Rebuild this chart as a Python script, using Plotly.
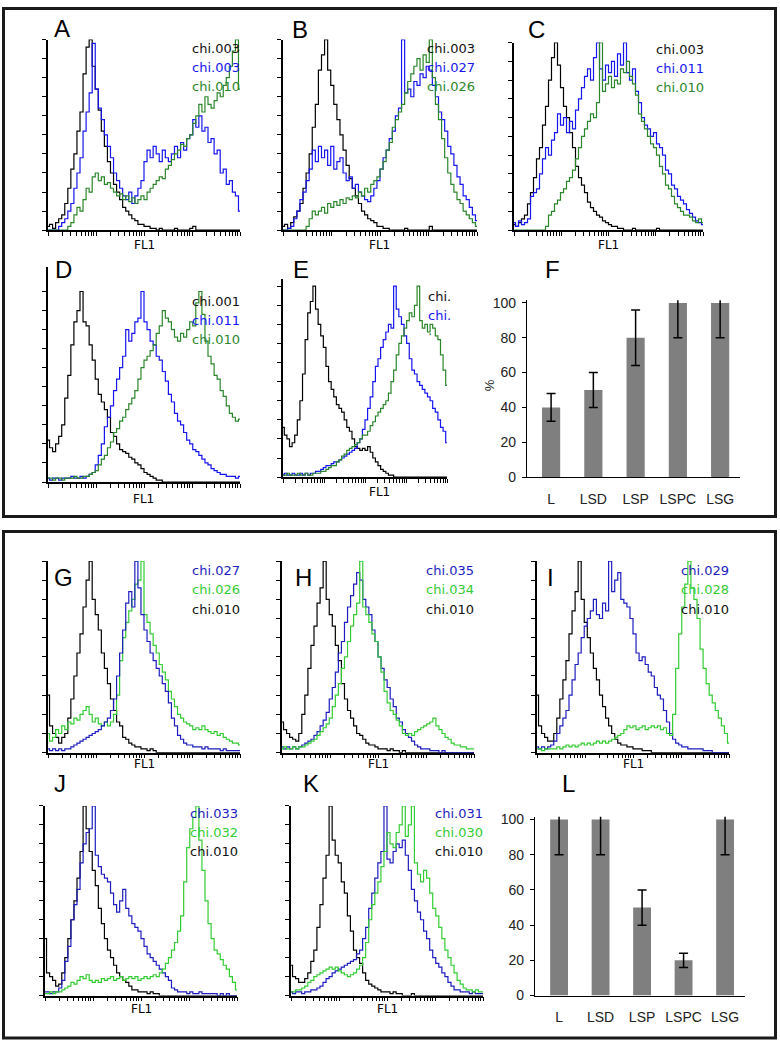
"""Flow-cytometry FL1 histograms (panels A-E, G-K) plus % positive bar charts (F, L)."""

import numpy as np
import plotly.graph_objects as go

W, H = 780, 1051

# ---- histogram counts: 64 FL1 bins spread over 4 log decades, 0-100 = full axis ----
A_black = [2, 3, 1, 4, 6, 8, 14, 22, 32, 40, 52, 62, 82, 96, 100, 86,
           74, 63, 52, 44, 36, 30, 24, 20, 16, 12, 10, 8, 6, 5, 3, 3,
           2, 2, 1, 1, 0, 1, 0, 0, 0, 0, 1, 0, 0, 0, 0, 1,
           2, 0, 0, 0, 0, 0, 0, 0, 0, 0, 0, 0, 0, 0, 0, 0]
A_blue = [0, 0, 0, 0, 2, 4, 6, 10, 14, 22, 30, 38, 52, 62, 72, 98,
          74, 64, 58, 50, 44, 38, 30, 26, 22, 18, 16, 20, 14, 18, 22, 26,
          36, 42, 38, 44, 40, 36, 42, 38, 36, 40, 44, 38, 46, 42, 48, 50,
          58, 54, 60, 52, 54, 46, 48, 40, 42, 30, 32, 24, 26, 20, 18, 10]
A_green = [0, 0, 0, 0, 0, 0, 0, 2, 4, 8, 12, 10, 16, 22, 20, 28,
           30, 26, 28, 24, 25, 22, 20, 18, 19, 16, 18, 15, 17, 14, 16, 18,
           16, 20, 22, 24, 26, 28, 27, 32, 34, 37, 40, 42, 45, 44, 48, 50,
           56, 60, 66, 62, 70, 66, 64, 68, 72, 70, 76, 80, 86, 94, 100, 74]

B_black = [2, 3, 1, 4, 7, 10, 14, 22, 30, 40, 54, 66, 84, 92, 100, 84,
           76, 66, 58, 50, 42, 34, 27, 22, 18, 14, 10, 8, 6, 5, 4, 2,
           2, 1, 1, 0, 0, 0, 0, 0, 1, 0, 0, 0, 0, 0, 0, 0,
           2, 0, 0, 0, 0, 0, 0, 0, 0, 0, 0, 0, 0, 0, 0, 0]
B_blue = [0, 0, 1, 2, 6, 10, 16, 20, 26, 32, 42, 36, 44, 38, 42, 34,
          44, 32, 36, 38, 30, 26, 28, 22, 24, 20, 18, 16, 15, 18, 22, 26,
          32, 38, 42, 48, 52, 60, 64, 100, 72, 74, 70, 78, 76, 82, 80, 86,
          84, 76, 70, 62, 58, 52, 44, 40, 34, 28, 24, 18, 16, 12, 8, 5]
B_green = [0, 0, 0, 0, 0, 0, 0, 0, 2, 6, 10, 8, 10, 12, 9, 14,
           12, 15, 13, 16, 14, 17, 16, 18, 17, 20, 18, 22, 20, 24, 26, 28,
           32, 36, 42, 46, 54, 58, 62, 66, 72, 78, 82, 86, 90, 84, 92, 88,
           100, 80, 66, 58, 48, 38, 30, 24, 20, 16, 14, 10, 8, 6, 4, 2]

C_black = [3, 2, 4, 6, 8, 14, 20, 28, 38, 44, 56, 66, 80, 92, 100, 88,
           76, 66, 60, 52, 44, 34, 28, 24, 20, 15, 12, 10, 8, 7, 5, 4,
           3, 2, 2, 1, 1, 0, 0, 0, 1, 0, 0, 0, 0, 0, 0, 0,
           1, 0, 0, 0, 0, 0, 0, 0, 0, 0, 0, 0, 0, 0, 0, 0]
C_blue = [4, 2, 5, 3, 4, 6, 18, 20, 22, 30, 38, 44, 40, 48, 52, 62,
          56, 60, 52, 58, 54, 64, 70, 76, 82, 86, 80, 92, 100, 86, 80, 88,
          84, 90, 82, 94, 88, 100, 84, 80, 86, 74, 68, 60, 56, 54, 50, 52,
          46, 44, 40, 32, 30, 24, 22, 18, 16, 14, 11, 9, 7, 5, 4, 3]
C_green = [0, 0, 0, 0, 0, 0, 0, 0, 0, 0, 0, 2, 8, 10, 14, 16,
           20, 22, 26, 28, 32, 38, 44, 50, 54, 58, 62, 60, 68, 100, 74, 78,
           82, 76, 80, 78, 86, 84, 90, 82, 78, 72, 62, 58, 54, 50, 46, 44,
           40, 34, 30, 24, 22, 18, 14, 12, 10, 8, 8, 7, 5, 4, 6, 4]

D_black = [22, 18, 16, 20, 24, 30, 44, 56, 72, 84, 90, 100, 84, 82, 72, 64,
           54, 46, 42, 38, 34, 26, 24, 20, 17, 16, 15, 13, 12, 10, 9, 7,
           5, 4, 3, 2, 1, 1, 0, 0, 0, 0, 0, 0, 0, 0, 0, 0,
           0, 0, 0, 0, 0, 0, 0, 0, 0, 0, 0, 0, 0, 0, 0, 0]
D_blue = [2, 1, 2, 2, 1, 2, 2, 2, 3, 2, 2, 3, 2, 3, 4, 5,
          9, 14, 20, 29, 34, 40, 48, 54, 60, 66, 80, 74, 78, 84, 86, 100,
          84, 80, 74, 72, 66, 64, 58, 53, 46, 42, 36, 32, 30, 26, 22, 20,
          17, 16, 14, 12, 10, 9, 7, 6, 5, 4, 4, 3, 3, 3, 2, 3]
D_green = [2, 2, 1, 2, 2, 1, 2, 2, 2, 3, 2, 2, 3, 3, 4, 5,
           6, 9, 12, 14, 18, 21, 26, 28, 32, 34, 38, 41, 44, 48, 54, 60,
           64, 66, 69, 72, 78, 82, 90, 86, 84, 80, 76, 74, 78, 76, 80, 84,
           82, 94, 100, 88, 74, 66, 62, 56, 54, 48, 45, 40, 36, 34, 32, 33]

E_black = [26, 22, 20, 16, 18, 22, 30, 40, 54, 72, 86, 92, 100, 88, 80, 74,
           68, 58, 50, 46, 42, 38, 36, 34, 30, 26, 24, 20, 16, 15, 14, 15,
           14, 16, 13, 10, 8, 6, 4, 3, 2, 1, 1, 0, 0, 0, 0, 0,
           0, 0, 0, 0, 0, 0, 0, 0, 0, 0, 0, 0, 0, 0, 0, 0]
E_blue = [1, 2, 1, 1, 2, 1, 1, 2, 1, 2, 1, 2, 2, 3, 3, 4,
          5, 6, 6, 7, 8, 8, 9, 10, 11, 12, 13, 14, 15, 18, 20, 25,
          30, 36, 42, 50, 58, 62, 68, 72, 76, 80, 78, 100, 88, 84, 80, 74,
          70, 62, 56, 54, 50, 48, 46, 44, 42, 40, 36, 34, 30, 26, 24, 18]
E_green = [1, 1, 2, 1, 1, 1, 2, 1, 1, 2, 1, 1, 2, 2, 2, 3,
           3, 4, 5, 6, 6, 8, 9, 11, 12, 14, 15, 16, 17, 18, 20, 22,
           22, 24, 27, 29, 32, 34, 36, 38, 40, 44, 50, 56, 64, 70, 74, 78,
           82, 86, 84, 90, 100, 82, 78, 80, 76, 80, 78, 74, 72, 64, 56, 48]

G_black = [30, 14, 10, 8, 5, 8, 10, 18, 28, 40, 52, 62, 76, 90, 100, 80,
           72, 64, 52, 44, 36, 28, 22, 16, 14, 8, 7, 5, 4, 3, 3, 2,
           2, 1, 2, 1, 0, 0, 0, 0, 0, 0, 0, 0, 0, 0, 0, 0,
           0, 0, 0, 0, 0, 0, 0, 0, 0, 0, 0, 0, 0, 0, 0, 0]
G_blue = [2, 1, 2, 1, 2, 1, 2, 2, 3, 4, 5, 6, 7, 8, 9, 10,
          11, 12, 14, 16, 18, 22, 28, 40, 52, 64, 78, 84, 76, 100, 86, 72,
          64, 58, 52, 48, 44, 40, 36, 32, 26, 18, 14, 9, 7, 5, 4, 4,
          3, 3, 3, 2, 3, 2, 2, 2, 2, 1, 2, 1, 1, 1, 1, 1]
G_green = [10, 6, 8, 12, 10, 14, 12, 16, 15, 18, 17, 20, 22, 24, 20, 16,
           18, 15, 14, 16, 14, 16, 20, 30, 48, 60, 68, 74, 80, 88, 90, 100,
           72, 68, 62, 56, 52, 46, 42, 38, 32, 28, 24, 20, 18, 16, 15, 14,
           12, 13, 12, 14, 12, 11, 10, 11, 9, 10, 8, 7, 6, 5, 5, 4]

H_black = [16, 12, 10, 8, 7, 6, 10, 20, 30, 44, 56, 66, 78, 86, 100, 80,
           72, 66, 56, 48, 36, 28, 22, 18, 14, 10, 9, 7, 5, 4, 4, 3,
           2, 2, 2, 1, 2, 1, 1, 0, 1, 0, 0, 0, 0, 0, 0, 0,
           0, 0, 0, 0, 0, 0, 0, 0, 0, 0, 0, 0, 0, 0, 0, 0]
H_blue = [3, 2, 3, 2, 3, 2, 3, 4, 5, 6, 7, 9, 11, 14, 17, 21,
          28, 34, 42, 52, 58, 68, 76, 82, 88, 94, 90, 80, 76, 72, 64, 58,
          50, 44, 38, 34, 28, 24, 18, 16, 12, 10, 8, 6, 4, 3, 2, 2,
          2, 1, 1, 1, 0, 1, 0, 0, 0, 0, 0, 0, 0, 0, 0, 0]
H_green = [2, 3, 2, 2, 3, 2, 3, 3, 4, 5, 6, 7, 9, 11, 13, 15,
           18, 24, 30, 36, 44, 50, 58, 66, 72, 78, 100, 76, 72, 68, 62, 58,
           50, 42, 32, 26, 22, 20, 17, 14, 10, 9, 10, 9, 11, 12, 13, 14,
           15, 16, 18, 14, 12, 10, 8, 7, 5, 4, 4, 3, 3, 2, 2, 2]

I_black = [30, 14, 10, 8, 6, 6, 10, 18, 28, 38, 48, 62, 74, 84, 100, 80,
           68, 60, 52, 44, 38, 30, 24, 18, 14, 10, 7, 5, 4, 4, 3, 3,
           2, 2, 2, 1, 1, 1, 0, 0, 0, 0, 0, 0, 0, 0, 0, 0,
           0, 0, 0, 0, 0, 0, 0, 0, 0, 0, 0, 0, 0, 0, 0, 0]
I_blue = [3, 2, 3, 2, 3, 4, 6, 10, 14, 18, 22, 30, 38, 46, 52, 60,
          66, 70, 74, 80, 72, 70, 78, 74, 100, 84, 90, 94, 80, 78, 76, 70,
          62, 52, 48, 50, 46, 42, 40, 34, 30, 28, 22, 16, 10, 7, 5, 4,
          3, 3, 2, 2, 2, 2, 2, 1, 1, 1, 0, 0, 0, 0, 0, 0]
I_green = [2, 2, 1, 2, 2, 2, 2, 3, 2, 3, 4, 3, 4, 3, 4, 5,
           4, 5, 4, 5, 6, 5, 6, 5, 6, 7, 8, 9, 10, 12, 14, 13,
           14, 12, 13, 14, 12, 13, 14, 13, 14, 12, 13, 10, 9, 20, 44, 62,
           76, 88, 100, 86, 80, 70, 54, 44, 36, 30, 26, 22, 18, 14, 10, 5]

J_black = [30, 12, 10, 8, 5, 6, 12, 20, 30, 40, 50, 62, 76, 100, 88, 76,
           66, 58, 46, 38, 30, 24, 20, 16, 12, 10, 8, 7, 5, 3, 3, 2,
           2, 2, 1, 2, 1, 1, 0, 0, 0, 0, 0, 0, 0, 0, 0, 0,
           0, 0, 0, 0, 0, 0, 0, 0, 0, 0, 0, 0, 0, 0, 0, 0]
J_blue = [2, 2, 1, 2, 2, 4, 8, 18, 26, 40, 48, 56, 70, 80, 86, 88,
          100, 74, 68, 64, 62, 60, 54, 48, 44, 50, 56, 46, 42, 38, 36, 34,
          30, 26, 22, 20, 18, 16, 14, 12, 10, 8, 4, 3, 2, 2, 2, 1,
          2, 1, 1, 2, 1, 1, 1, 1, 1, 0, 1, 0, 1, 0, 0, 0]
J_green = [1, 1, 2, 1, 2, 2, 3, 4, 5, 7, 6, 8, 10, 9, 11, 8,
           7, 8, 7, 9, 8, 9, 10, 8, 9, 10, 8, 9, 10, 9, 10, 8,
           9, 10, 9, 10, 11, 10, 12, 14, 17, 20, 24, 28, 34, 42, 60, 78,
           88, 94, 100, 82, 66, 50, 38, 30, 24, 22, 19, 16, 14, 10, 7, 3]

K_black = [16, 10, 9, 7, 7, 9, 12, 18, 24, 36, 48, 62, 74, 100, 82, 74,
           70, 60, 54, 42, 34, 24, 20, 17, 12, 8, 6, 5, 4, 3, 2, 2,
           2, 1, 2, 1, 1, 0, 0, 0, 1, 0, 0, 0, 0, 0, 0, 0,
           0, 0, 0, 0, 0, 0, 0, 0, 0, 0, 0, 0, 0, 0, 0, 0]
K_blue = [2, 1, 2, 2, 1, 2, 2, 3, 3, 4, 5, 7, 9, 10, 12, 13,
          14, 15, 16, 17, 18, 19, 22, 24, 30, 36, 46, 54, 62, 70, 76, 100,
          72, 70, 76, 80, 78, 82, 74, 66, 56, 50, 44, 40, 34, 30, 24, 20,
          17, 15, 12, 10, 7, 5, 3, 3, 2, 2, 2, 1, 2, 1, 1, 1]
K_green = [2, 2, 3, 3, 4, 5, 7, 8, 10, 11, 12, 13, 14, 15, 14, 15,
           13, 12, 11, 10, 11, 12, 14, 16, 20, 28, 40, 48, 54, 60, 68, 76,
           86, 80, 78, 86, 90, 100, 84, 90, 100, 70, 64, 60, 66, 62, 54, 46,
           42, 36, 30, 24, 20, 16, 12, 8, 6, 4, 3, 3, 2, 3, 2, 2]

# ---- bar charts (% positive) ----
bar_groups = ["L", "LSD", "LSP", "LSPC", "LSG"]
F_pct = [40, 50, 80, 100, 100]
F_err = [8, 10, 16, 20, 20]
L_pct = [100, 100, 50, 20, 100]
L_err = [20, 20, 10, 4, 20]

BLACK = "#000000"
BLUE_TOP, GREEN_TOP = "#1515f0", "#2a862a"
BLUE_BOT, GREEN_BOT = "#1c1cc0", "#33cc33"

# name, (left, right, top, bottom) in px, y-range top, curves, legend, letter xy, FL1 xy, legend xy
hist_panels = [
    ("A", (48, 240, 35, 228), 100, [(A_black, BLACK), (A_blue, BLUE_TOP), (A_green, GREEN_TOP)],
     [("chi.003", "#111"), ("chi.003", BLUE_TOP), ("chi.010", GREEN_TOP)], (62, 24), (144, 243), (190, 44)),
    ("B", (283, 477, 35, 228), 100, [(B_black, BLACK), (B_blue, BLUE_TOP), (B_green, GREEN_TOP)],
     [("chi.003", "#111"), ("chi.027", BLUE_TOP), ("chi.026", GREEN_TOP)], (300, 25), (379, 243), (425, 44)),
    ("C", (514, 703, 38, 228), 100, [(C_black, BLACK), (C_blue, BLUE_TOP), (C_green, GREEN_TOP)],
     [("chi.003", "#111"), ("chi.011", BLUE_TOP), ("chi.010", GREEN_TOP)], (536, 25), (608, 243), (654, 45)),
    ("D", (48, 240, 265, 483), 113, [(D_black, BLACK), (D_blue, BLUE_TOP), (D_green, GREEN_TOP)],
     [("chi.001", "#111"), ("chi.011", BLUE_TOP), ("chi.010", GREEN_TOP)], (63, 268), (143, 500), (190, 300)),
    ("E", (283, 447, 277, 478), 104, [(E_black, BLACK), (E_blue, BLUE_TOP), (E_green, GREEN_TOP)],
     [("chi.", "#111"), ("chi.", BLUE_TOP), ("·", GREEN_TOP)], (301, 268), (379, 493), (426, 295)),
    ("G", (48, 240, 563, 757), 100, [(G_black, BLACK), (G_green, GREEN_BOT), (G_blue, BLUE_BOT)],
     [("chi.027", BLUE_BOT), ("chi.026", GREEN_BOT), ("chi.010", "#111")], (63, 580), (144, 768), (190, 573)),
    ("H", (282, 474, 563, 757), 100, [(H_black, BLACK), (H_blue, BLUE_BOT), (H_green, GREEN_BOT)],
     [("chi.035", BLUE_BOT), ("chi.034", GREEN_BOT), ("chi.010", "#111")], (303, 580), (378, 768), (424, 573)),
    ("I", (537, 729, 563, 757), 100, [(I_black, BLACK), (I_blue, BLUE_BOT), (I_green, GREEN_BOT)],
     [("chi.029", BLUE_BOT), ("chi.028", GREEN_BOT), ("chi.010", "#111")], (550, 580), (633, 768), (679, 573)),
    ("J", (45, 237, 811, 1003), 100, [(J_black, BLACK), (J_blue, BLUE_BOT), (J_green, GREEN_BOT)],
     [("chi.033", BLUE_BOT), ("chi.032", GREEN_BOT), ("chi.010", "#111")], (60, 788), (141, 1017), (188, 819)),
    ("K", (291, 483, 811, 1003), 100, [(K_black, BLACK), (K_blue, BLUE_BOT), (K_green, GREEN_BOT)],
     [("chi.031", BLUE_BOT), ("chi.030", GREEN_BOT), ("chi.010", "#111")], (311, 788), (387, 1017), (433, 819)),
]

# name, (left, right, top, bottom), values, errors, letter xy, x-range
bar_panels = [
    ("F", (527, 740, 299, 478), F_pct, F_err, (552, 268), (-0.57, 4.47)),
    ("L", (535, 745, 822, 1003), L_pct, L_err, (568, 788), (-0.58, 4.48)),
]

x_bins = np.linspace(0, 4, 64)
log_ticks = [d + np.log10(k) for d in range(4) for k in range(1, 10)] + [4]


def px_x(px):
    return px / W


def px_y(py):
    return 1 - py / H


def note(x, y, text, size, color="black", family="DejaVu Sans", xanchor="center", **kw):
    return dict(x=px_x(x), y=px_y(y), xref="paper", yref="paper", text=text, showarrow=False,
                xanchor=xanchor, yanchor="middle", font=dict(family=family, size=size, color=color), **kw)


fig = go.Figure()
layout = {}
annotations = []
n = 0

for name, (l, r, t, b), ytop, curves, legend, letter_xy, fl1_xy, leg_xy in hist_panels:
    n += 1
    sfx = "" if n == 1 else str(n)
    for vals, color in curves:
        fig.add_trace(go.Scatter(
            x=x_bins, y=vals, mode="lines", line=dict(color=color, width=1.2, shape="hvh"),
            xaxis="x" + sfx, yaxis="y" + sfx, showlegend=False, hoverinfo="skip",
        ))
    layout["xaxis" + sfx] = dict(
        domain=[px_x(l), px_x(r)], anchor="y" + sfx, range=[0, 4], showgrid=False, zeroline=False,
        showline=True, linecolor="black", linewidth=1.5, ticks="outside", tickvals=log_ticks,
        ticklen=4, tickwidth=1, tickcolor="black", showticklabels=False,
    )
    layout["yaxis" + sfx] = dict(
        domain=[px_y(b), px_y(t)], anchor="x" + sfx, range=[0, ytop], showgrid=False, zeroline=False,
        showline=True, linecolor="black", linewidth=2, ticks="outside",
        tickvals=list(range(0, 101, 10)), ticklen=4, tickwidth=1, tickcolor="black",
        showticklabels=False,
    )
    annotations.append(note(*letter_xy, name, 24, family="Liberation Sans"))
    annotations.append(note(*fl1_xy, "FL1", 12))
    for k, (txt, col) in enumerate(legend):
        annotations.append(note(leg_xy[0], leg_xy[1] + 19.3 * k, txt, 13, color=col, xanchor="left"))

for name, (l, r, t, b), vals, errs, letter_xy, xr in bar_panels:
    n += 1
    sfx = str(n)
    fig.add_trace(go.Bar(
        x=bar_groups, y=vals, width=0.43, marker=dict(color="#7f7f7f", line=dict(width=0)),
        error_y=dict(type="data", array=errs, color="black", thickness=1.5, width=4.5),
        xaxis="x" + sfx, yaxis="y" + sfx, showlegend=False, hoverinfo="skip",
    ))
    layout["xaxis" + sfx] = dict(
        domain=[px_x(l), px_x(r)], anchor="y" + sfx, type="category", range=list(xr),
        showgrid=False, zeroline=False, showline=True, linecolor="black", linewidth=1.2, ticks="",
        tickfont=dict(family="Liberation Sans", size=14, color="#222"), ticklabelstandoff=9,
    )
    layout["yaxis" + sfx] = dict(
        domain=[px_y(b), px_y(t)], anchor="x" + sfx, range=[0, 101.5], showgrid=False,
        zeroline=False, showline=True, linecolor="black", linewidth=1.2, ticks="outside",
        tickvals=[0, 20, 40, 60, 80, 100], ticklen=4, tickcolor="black",
        tickfont=dict(family="Liberation Sans", size=14, color="#222"), ticklabelstandoff=3,
    )
    annotations.append(note(*letter_xy, name, 24, family="Liberation Sans"))

annotations.append(note(489, 385, "%", 13, color="#222", family="Liberation Sans", textangle=-90))

shapes = [
    dict(type="rect", xref="paper", yref="paper", x0=px_x(3.5), x1=px_x(775.5),
         y0=px_y(518), y1=px_y(3.5), line=dict(color="#1a1a1a", width=3)),
    dict(type="rect", xref="paper", yref="paper", x0=px_x(3.5), x1=px_x(775.5),
         y0=px_y(1046), y1=px_y(533), line=dict(color="#1a1a1a", width=3)),
]

fig.update_layout(
    width=W, height=H, margin=dict(l=0, r=0, t=0, b=0),
    paper_bgcolor="white", plot_bgcolor="white",
    annotations=annotations, shapes=shapes, bargap=0.5, **layout,
)

# the page's default body margin would push the 780px figure off the window edge
fig.write_html("out.html", config={"displayModeBar": False},
               post_script="document.body.style.margin='0';")
